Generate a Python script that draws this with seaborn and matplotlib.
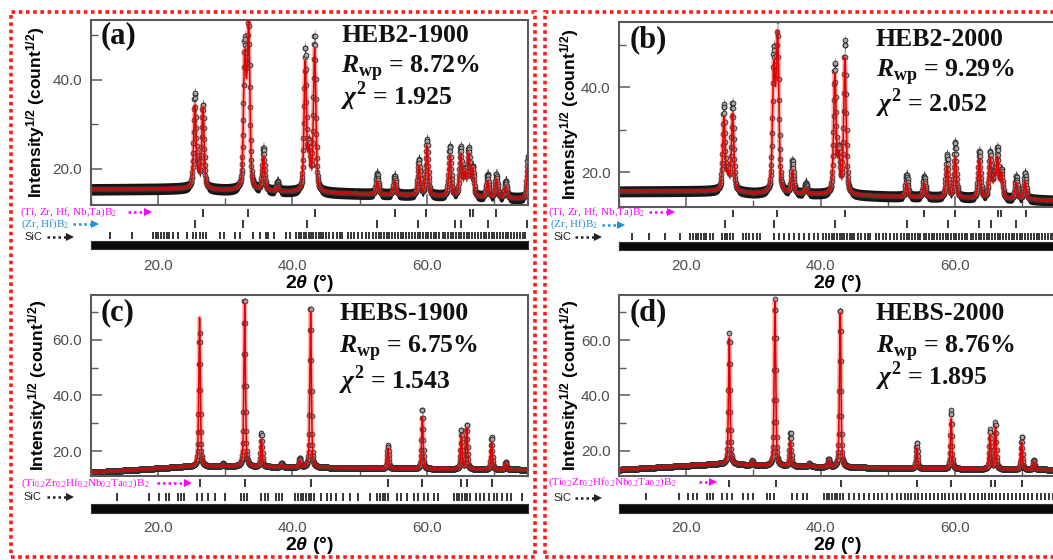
import numpy as np
import matplotlib
matplotlib.use("Agg")
import matplotlib.pyplot as plt
import seaborn as sns
from matplotlib.lines import Line2D
from matplotlib.patches import Rectangle
from matplotlib.ticker import MultipleLocator, FormatStrFormatter

# ---------------------------------------------------------------- data
two_theta_range = [10.0, 75.0]

panel_tags = ["(a)", "(b)", "(c)", "(d)"]
sample_names = ["HEB2-1900", "HEB2-2000", "HEBS-1900", "HEBS-2000"]
rwp_values = ["8.72%", "9.29%", "6.75%", "8.76%"]
chi2_values = ["1.925", "2.052", "1.543", "1.895"]

phase_hea_ab = r"(Ti, Zr, Hf, Nb,Ta)B$_2$"
phase_zrhf_ab = r"(Zr, Hf)B$_2$"
phase_hea_cd = r"(Ti$_{0.2}$Zr$_{0.2}$Hf$_{0.2}$Nb$_{0.2}$Ta$_{0.2}$)B$_2$"
phase_sic = "SiC"

# panel (a) HEB2-1900
a_peak_pos = [25.5, 26.0, 26.7, 32.9, 33.2, 33.5, 35.7, 37.8, 41.9, 42.5, 43.3,
              52.6, 55.2, 58.8, 60.0, 63.4, 65.0, 65.6, 66.2, 66.8, 69.0, 70.3, 71.7, 75.0]
a_peak_obs = [36.5, 19.0, 34.0, 45.0, 24.0, 51.5, 24.5, 17.0, 46.5, 24.0, 49.5,
              19.0, 18.4, 22.0, 26.5, 25.0, 24.5, 19.0, 24.0, 20.0, 18.7, 18.7, 17.2, 22.8]
a_peak_calc = [33.8, 18.5, 33.5, 42.5, 23.0, 49.5, 22.5, 15.8, 43.5, 23.0, 46.5,
               17.2, 17.2, 20.6, 25.0, 22.8, 22.8, 18.5, 22.8, 19.5, 17.2, 17.6, 16.0, 21.0]
a_bg_pos = [10, 20, 25, 30, 40, 50, 60, 70, 75]
a_bg_val = [15.4, 15.5, 15.6, 15.2, 14.8, 14.4, 14.0, 13.5, 13.3]
a_ticks_hea = [26.7, 33.4, 43.3, 55.2, 59.8, 66.4, 66.8, 70.3]
a_ticks_zrhf = [25.5, 32.6, 42.1, 52.5, 58.7, 64.1, 65.0, 69.0, 74.8]
a_ticks_sic = [12.9, 16.2, 19.3, 19.7, 20.1, 20.5, 20.9, 21.3, 21.7, 22.2, 23.0, 24.3,
               25.2, 25.7, 26.2, 26.7, 27.2, 29.3, 29.9, 31.4, 32.2, 34.2, 35.2, 36.0,
               36.4, 37.2, 39.1, 39.6, 40.6, 41.0, 41.3, 41.7, 42.0, 42.4, 42.8, 43.1,
               43.5, 43.9, 44.3, 44.6, 45.0, 45.5, 46.0, 46.6, 47.0, 47.4, 48.2, 48.7,
               49.2, 49.7, 50.3, 50.9, 51.4, 51.9, 52.4, 52.8, 53.2, 53.6, 54.0, 54.4,
               54.8, 55.3, 55.7, 56.1, 56.5, 56.9, 57.3, 57.7, 58.2, 58.6, 59.0, 59.4,
               59.8, 60.2, 60.6, 61.0, 61.4, 61.8, 62.3, 62.7, 63.1, 63.5, 63.9, 64.3,
               64.7, 65.1, 65.5, 65.9, 66.3, 66.7, 67.1, 67.6, 68.0, 68.4, 68.8, 69.2,
               69.6, 70.0, 70.4, 70.8, 71.3, 71.7, 72.1, 72.5, 72.9, 73.3, 73.8, 74.2, 74.6]

# panel (b) HEB2-2000
b_peak_pos = [25.6, 26.2, 26.9, 33.0, 33.3, 33.6, 35.8, 37.8, 42.1, 42.7, 43.6,
              52.8, 55.4, 58.8, 60.0, 63.6, 65.2, 65.8, 66.3, 66.9, 69.1, 70.4]
b_peak_obs = [35.5, 19.5, 36.0, 45.0, 24.0, 53.5, 22.5, 17.4, 45.0, 24.0, 50.5,
              19.4, 19.0, 24.0, 27.0, 24.9, 24.5, 19.0, 25.0, 20.0, 19.0, 19.8]
b_peak_calc = [32.5, 19.0, 33.5, 42.0, 23.0, 49.5, 20.2, 16.0, 42.5, 23.0, 46.5,
               17.4, 17.4, 21.3, 23.4, 22.9, 23.0, 18.5, 22.8, 19.5, 17.4, 17.8]
b_bg_pos = [10, 25, 30, 40, 50, 60, 72, 75]
b_bg_val = [15.5, 15.6, 15.0, 14.8, 14.3, 14.0, 13.5, 13.3]
b_ticks_hea = [26.9, 33.5, 43.6, 55.4, 60.0, 66.3, 66.8, 70.6]
b_ticks_zrhf = [25.8, 33.0, 42.2, 52.8, 58.9, 63.6, 65.4, 69.1, 74.8]
b_ticks_sic = [12.0, 14.4, 16.9, 19.1, 20.6, 21.0, 21.4, 21.8, 22.2, 22.6, 23.0, 23.5,
               24.0, 25.3, 25.7, 26.1, 26.5, 27.0, 28.5, 28.9, 29.4, 30.0, 30.5, 31.0,
               33.0, 33.8, 34.5, 35.3, 36.0, 36.8, 37.5, 38.2, 39.0, 39.6, 40.3, 40.8,
               41.3, 41.7, 42.0, 42.4, 42.8, 43.1, 43.5, 43.9, 44.3, 44.6, 45.0, 45.5,
               46.0, 46.6, 47.0, 47.4, 48.2, 48.7, 49.2, 49.7, 50.3, 50.9, 51.4, 51.9,
               52.4, 52.8, 53.2, 53.6, 54.0, 54.4, 54.8, 55.3, 55.7, 56.1, 56.5, 56.9,
               57.3, 57.7, 58.2, 58.6, 59.0, 59.4, 59.8, 60.2, 60.6, 61.0, 61.4, 61.8,
               62.3, 62.7, 63.1, 63.5, 63.9, 64.3, 64.7, 65.1, 65.5, 65.9, 66.3, 66.7,
               67.1, 67.6, 68.0, 68.4, 68.8, 69.2, 69.6, 70.0, 70.4, 70.8, 71.3, 71.7,
               72.1, 72.5, 72.9, 73.3, 73.8, 74.2, 74.6]

# panel (c) HEBS-1900
c_peak_pos = [26.2, 29.7, 32.9, 35.4, 38.4, 41.1, 42.7, 54.2, 59.3, 65.1, 65.9, 69.6, 71.7]
c_peak_obs = [62.5, 15.5, 75.0, 26.5, 15.8, 17.5, 72.0, 22.0, 35.0, 27.5, 29.5, 25.0, 16.0]
c_peak_calc = [68.0, 15.0, 73.0, 24.0, 15.0, 16.5, 70.0, 21.0, 32.0, 25.5, 28.0, 23.0, 15.5]
c_bg_pos = [10, 17, 24, 30, 40, 50, 60, 70, 75]
c_bg_val = [12.3, 13.3, 14.4, 14.5, 14.2, 13.8, 13.6, 13.4, 13.3]
c_ticks_hea = [26.2, 32.9, 42.7, 54.2, 59.3, 65.1, 65.9, 69.6]
c_ticks_sic = [13.9, 18.7, 20.2, 21.2, 21.7, 23.0, 23.4, 23.9, 25.75, 26.5, 27.5, 28.5,
               30.0, 32.4, 32.8, 33.3, 35.3, 35.9, 36.4, 37.6, 38.0, 38.4, 40.4, 40.8,
               41.2, 41.6, 42.0, 42.4, 42.8, 43.2, 44.3, 45.1, 45.8, 46.5, 47.5, 48.5,
               49.8, 51.5, 52.5, 53.0, 53.4, 53.8, 54.2, 55.5, 56.2, 57.0, 58.0, 58.7,
               59.5, 60.2, 61.0, 61.7, 64.0, 64.4, 64.8, 65.2, 65.6, 66.0, 66.4, 67.2,
               67.9, 68.4, 69.2, 69.9, 70.4, 71.2, 71.9, 72.4, 74.1]

# panel (d) HEBS-2000
d_peak_pos = [26.4, 29.8, 33.2, 35.5, 38.3, 41.2, 42.9, 54.3, 59.4, 65.2, 66.0, 69.9, 71.7]
d_peak_obs = [62.5, 16.5, 75.0, 26.4, 15.5, 17.0, 71.6, 22.8, 34.6, 27.7, 30.2, 25.0, 16.8]
d_peak_calc = [60.7, 16.0, 74.0, 23.3, 15.0, 16.5, 69.8, 21.0, 31.5, 25.5, 28.5, 23.0, 16.0]
d_bg_pos = [10, 25, 30, 40, 50, 60, 70, 75]
d_bg_val = [13.2, 15.3, 14.8, 14.2, 13.8, 13.5, 13.3, 13.2]
d_ticks_hea = [26.4, 33.3, 43.0, 54.3, 59.4, 65.3, 66.0, 69.9]
d_ticks_sic = [14.0, 18.9, 20.3, 21.0, 21.6, 23.1, 23.5, 24.0, 25.3, 26.0, 26.8, 28.5,
               29.2, 30.0, 32.0, 32.5, 33.0, 35.8, 36.5, 37.3, 38.0, 40.5, 40.9, 41.3,
               41.7, 42.1, 42.5, 42.9, 43.3, 44.2, 44.9, 45.7, 46.4, 47.2, 47.9, 48.5,
               49.1, 49.9, 50.6, 51.4, 52.0, 52.5, 53.0, 53.5, 54.0, 54.5, 55.0, 55.6,
               56.2, 56.8, 57.4, 58.0, 58.5, 59.1, 59.7, 60.3, 60.9, 61.5, 62.2, 62.8,
               63.4, 64.0, 64.5, 65.0, 65.5, 66.1, 66.7, 67.3, 67.9, 68.5, 69.1, 69.7,
               70.3, 70.9, 71.5, 72.1, 72.7, 73.3, 73.9, 74.5]

peak_fwhm = [0.42, 0.42, 0.27, 0.27]
obs_spread = [1.3, 1.3, 1.0, 1.0]
y_limits = [(11.9, 53.4), (11.95, 55.4), (11.0, 76.2), (10.9, 76.3)]

# ---------------------------------------------------------------- style
sns.set_theme(style="white")
plt.rcParams.update({
    "font.family": ["Liberation Sans", "DejaVu Sans"],
    "mathtext.fontset": "custom",
    "mathtext.rm": "Liberation Serif",
    "mathtext.bf": "Liberation Serif:bold",
    "mathtext.cal": "Liberation Serif:bold:italic",
    "mathtext.it": "Liberation Sans:bold:italic",
    "mathtext.sf": "Liberation Sans:bold",
})

W, H = 1053, 560
fig = plt.figure(figsize=(W / 100, H / 100), dpi=100)


def fx(x):
    return x / W


def fy(y):
    return 1 - y / H


def rect(l, t, r, b):
    return [l / W, 1 - b / H, (r - l) / W, (b - t) / H]


def pv(x, c, fw, eta=0.45):
    hw = fw / 2.0
    u = (x - c) / hw
    return eta / (1 + u ** 2) + (1 - eta) * np.exp(-np.log(2) * u ** 2)


def profile(x, pos, tops, bg_pos, bg_val, fw):
    y = np.interp(x, bg_pos, bg_val)
    for c, t in zip(pos, tops):
        y = y + (t - np.interp(c, bg_pos, bg_val)) * pv(x, c, fw)
    return y


grid = np.arange(two_theta_range[0], two_theta_range[1] + 1e-9, 0.02)

panels = [
    dict(l=90.5, r=528, t=20, b=205, rows=[213, 224, 235.5], band=(241, 248.5), lab_y=265, xl_y=283,
         ylab_x=36, tag=(101, 36), ann_x=341, ann_y=(35, 68.5, 97),
         pos=a_peak_pos, obs=a_peak_obs, calc=a_peak_calc, bgp=a_bg_pos, bgv=a_bg_val,
         ticks=[a_ticks_hea, a_ticks_zrhf, a_ticks_sic],
         labels=[(phase_hea_ab, "#ff00ff", 20, 212.2, 128, 150),
                 (phase_zrhf_ab, "#1f8fe0", 20.7, 224.3, 73, 97),
                 (phase_sic, "#222222", 24, 236.8, 47, 72)]),
    dict(l=619, r=1056, t=21.7, b=206.5, rows=[213.3, 224, 236.5], band=(241.7, 250), lab_y=266, xl_y=283,
         ylab_x=570, tag=(630, 40), ann_x=876, ann_y=(40, 71.7, 103.3),
         pos=b_peak_pos, obs=b_peak_obs, calc=b_peak_calc, bgp=b_bg_pos, bgv=b_bg_val,
         ticks=[b_ticks_hea, b_ticks_zrhf, b_ticks_sic],
         labels=[(phase_hea_ab, "#ff00ff", 548, 211.8, 649, 673),
                 (phase_zrhf_ab, "#1f8fe0", 550, 224.5, 602, 623),
                 (phase_sic, "#222222", 553, 237.2, 575, 600)]),
    dict(l=90.5, r=528, t=295, b=476, rows=[483, 497], band=(504, 513), lab_y=528, xl_y=545,
         ylab_x=38, tag=(101, 313), ann_x=339, ann_y=(313, 348, 381),
         pos=c_peak_pos, obs=c_peak_obs, calc=c_peak_calc, bgp=c_bg_pos, bgv=c_bg_val,
         ticks=[c_ticks_hea, c_ticks_sic],
         labels=[(phase_hea_cd, "#ff00ff", 20.7, 483.3, 157, 190),
                 (phase_sic, "#222222", 23, 496.8, 47, 72)]),
    dict(l=619, r=1056, t=295, b=476, rows=[483.3, 496.5], band=(504, 513.3), lab_y=527, xl_y=545,
         ylab_x=570, tag=(630, 313), ann_x=876, ann_y=(313, 348, 377),
         pos=d_peak_pos, obs=d_peak_obs, calc=d_peak_calc, bgp=d_bg_pos, bgv=d_bg_val,
         ticks=[d_ticks_hea, d_ticks_sic],
         labels=[(phase_hea_cd, "#ff00ff", 548, 482.3, 699, 715),
                 (phase_sic, "#222222", 553, 498, 575, 600)]),
]

tick_gray = "#4d4d4d"
spine_gray = "#5a5a5a"

for i, p in enumerate(panels):
    # ---- main pattern axes
    ax = fig.add_axes(rect(p["l"], p["t"], p["r"], p["b"]))
    obs_y = profile(grid, p["pos"], p["obs"], p["bgp"], p["bgv"], peak_fwhm[i])
    calc_y = profile(grid, p["pos"], p["calc"], p["bgp"], p["bgv"], peak_fwhm[i])
    ax.fill_between(grid, obs_y - obs_spread[i], obs_y + obs_spread[i],
                    color="#151515", lw=0, zorder=1)
    sns.scatterplot(x=grid[::2], y=obs_y[::2], ax=ax, marker="o", s=12,
                    color="#a8a8a8", edgecolor="#202020", linewidth=0.6,
                    legend=False, zorder=2)
    sns.lineplot(x=grid, y=calc_y, ax=ax, color="#ff3030", lw=3.4, alpha=0.35,
                 sort=False, estimator=None, zorder=3)
    sns.lineplot(x=grid, y=calc_y, ax=ax, color="#e00000", lw=1.1,
                 sort=False, estimator=None, zorder=4)
    ax.set_xlim(*two_theta_range)
    ax.set_ylim(*y_limits[i])
    ax.xaxis.set_major_locator(MultipleLocator(20))
    ax.xaxis.set_minor_locator(MultipleLocator(10))
    ax.yaxis.set_major_locator(MultipleLocator(20))
    ax.yaxis.set_minor_locator(MultipleLocator(10))
    ax.yaxis.set_major_formatter(FormatStrFormatter("%.1f"))
    ax.tick_params(axis="both", which="both", direction="in", color=spine_gray,
                   left=True, bottom=True, top=False, right=False)
    ax.tick_params(axis="both", which="major", length=8, width=1.1)
    ax.tick_params(axis="both", which="minor", length=5, width=1.0)
    ax.tick_params(axis="x", labelbottom=False)
    ax.tick_params(axis="y", labelsize=11, labelcolor=tick_gray, pad=6)
    ax.set_xlabel("")
    ax.set_ylabel("")
    for s in ax.spines.values():
        s.set_color(spine_gray)
        s.set_linewidth(1.5)

    # ---- reflection tick rows
    axr = fig.add_axes(rect(p["l"], p["b"], p["r"], p["band"][0]))
    axr.set_xlim(*two_theta_range)
    axr.set_ylim(p["band"][0], p["b"])
    axr.axis("off")
    for row_y, pos_list in zip(p["rows"], p["ticks"]):
        axr.vlines(pos_list, row_y - 3.8, row_y + 3.8, color="black", lw=1.1)

    # ---- difference strip
    axd = fig.add_axes(rect(p["l"], p["band"][0], p["r"], p["band"][1]))
    axd.set_xlim(*two_theta_range)
    axd.set_ylim(-1, 1)
    axd.fill_between(grid, -1, 1, color="#0a0a0a", lw=0)
    axd.set_yticks([])
    axd.set_xticks([20, 40, 60])
    axd.set_xticklabels(["20.0", "40.0", "60.0"])
    pad_px = p["lab_y"] - p["band"][1] - 6.5
    axd.tick_params(axis="x", length=0, pad=pad_px * 0.72, labelsize=11, labelcolor=tick_gray)
    for s in axd.spines.values():
        s.set_color("#333333")
        s.set_linewidth(0.8)

    # ---- axis titles
    fig.text(fx(p["ylab_x"]), fy((p["t"] + p["b"]) / 2),
             r"Intensity$^{\mathsf{1/2}}$ (count$^{\mathsf{1/2}}$)",
             rotation=90, ha="center", va="center", fontsize=12.5,
             fontweight="bold", color="black")
    fig.text(fx((p["l"] + p["r"]) / 2), fy(p["xl_y"]), r"2$\mathit{θ}$ (°)",
             ha="center", va="center", fontsize=14, fontweight="bold", color="black")

    # ---- panel annotations
    fig.text(fx(p["tag"][0]), fy(p["tag"][1]), panel_tags[i], ha="left", va="center",
             fontsize=22, fontweight="bold", family="Liberation Serif", color="#111111")
    ann = [sample_names[i],
           r"$\mathcal{R}_{\mathbf{wp}}$ = " + rwp_values[i],
           r"$\mathcal{χ}^{\mathbf{2}}$ = " + chi2_values[i]]
    for txt, yy in zip(ann, p["ann_y"]):
        fig.text(fx(p["ann_x"]), fy(yy), txt, ha="left", va="center",
                 fontsize=18.5, fontweight="bold", family="Liberation Serif", color="#111111")

    # ---- phase labels with dotted arrows
    for txt, col, tx, ty, a0, a1 in p["labels"]:
        fam = "Liberation Sans" if txt == phase_sic else "Liberation Serif"
        fig.text(fx(tx), fy(ty), txt, ha="left", va="center", fontsize=8,
                 family=fam, color=col)
        fig.add_artist(Line2D([fx(a0), fx(a1 - 4)], [fy(ty), fy(ty)],
                              transform=fig.transFigure, color=col, lw=1.8,
                              linestyle=(0, (1, 1.2))))
        fig.add_artist(Line2D([fx(a1 - 2.5)], [fy(ty)], transform=fig.transFigure,
                              marker=">", ms=5.5, color=col, lw=0, markeredgewidth=0))

# ---- red dotted frames
for (l, t, r, b) in [(11, 12, 535, 557), (545, 12, 1075, 557)]:
    fig.add_artist(Rectangle((fx(l), fy(b)), fx(r) - fx(l), fy(t) - fy(b),
                             transform=fig.transFigure, fill=False,
                             edgecolor="#ff1a1a", lw=2.6, linestyle=(0, (1, 1))))

fig.savefig("out.png", dpi=100)
